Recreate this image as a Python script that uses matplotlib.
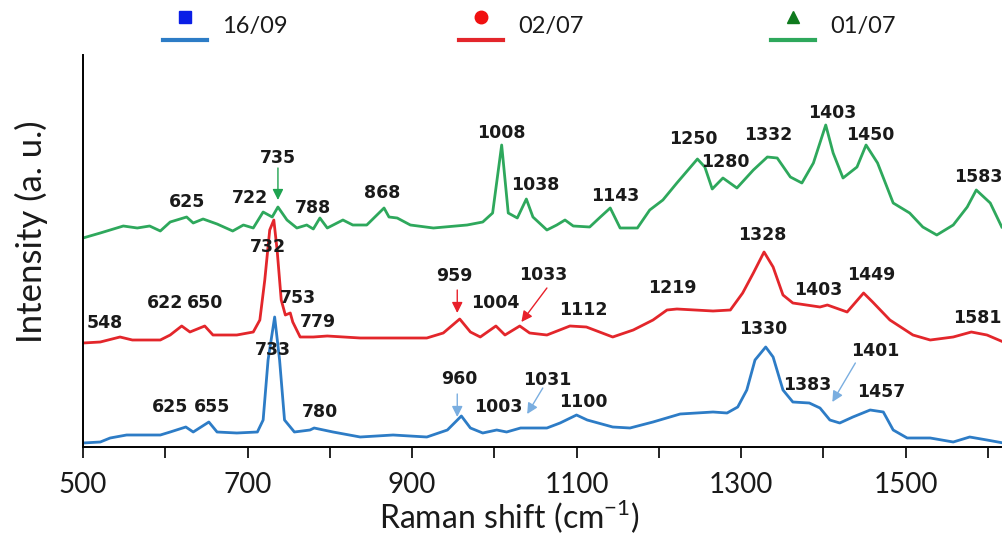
import matplotlib
matplotlib.use("Agg")
import matplotlib.pyplot as plt
from matplotlib.lines import Line2D

# Raman spectra, stacked (a. u.), wavenumber in cm-1
wn_0109 = [500, 521, 549, 566, 581, 594, 606, 626, 634, 646, 663, 682, 695, 707, 719, 730,
           737, 748, 760, 772, 780, 788, 797, 816, 828, 845, 866, 872, 882, 898, 926, 967,
           986, 998, 1009, 1017, 1028, 1039, 1047, 1064, 1076, 1086, 1096, 1116, 1129, 1141,
           1153, 1174, 1189, 1205, 1222, 1247, 1256, 1265, 1278, 1295, 1315, 1332, 1344, 1360,
           1374, 1388, 1403, 1412, 1424, 1441, 1452, 1466, 1485, 1505, 1521, 1538, 1558, 1575,
           1586, 1603, 1617]
int_0109 = [209, 214, 221, 219, 221, 216, 225, 230, 224, 228, 223, 216, 222, 219, 235, 230,
            240, 227, 219, 222, 218, 229, 219, 227, 222, 222, 239, 230, 229, 222, 219, 222,
            225, 234, 302, 234, 229, 248, 230, 217, 222, 227, 221, 220, 230, 239,
            219, 219, 237, 247, 264, 288, 280, 258, 269, 259, 277, 290, 289, 270,
            264, 284, 322, 294, 269, 280, 302, 284, 244, 234, 220, 212, 222, 240,
            257, 244, 220]

wn_0207 = [500, 521, 545, 560, 594, 606, 620, 630, 648, 658, 687, 707, 715, 721, 727, 732,
           736, 741, 746, 752, 755, 764, 780, 797, 837, 877, 918, 938, 958, 971, 983, 1002,
           1013, 1031, 1043, 1064, 1092, 1112, 1144, 1169, 1193, 1210, 1222, 1266, 1287,
           1302, 1315, 1328, 1339, 1351, 1363, 1396, 1405, 1429, 1449, 1460, 1481, 1509,
           1530, 1558, 1580, 1599, 1619]
int_0207 = [104, 105, 110, 107, 107, 112, 121, 115, 121, 112, 112, 115, 127, 167, 217, 227,
            197, 147, 132, 134, 125, 110, 110, 111, 109, 109, 109, 114, 128, 115, 110, 121,
            112, 121, 114, 112, 121, 120, 110, 117, 127, 137, 138, 136, 137,
            154, 174, 195, 180, 152, 144, 140, 142, 135, 154, 145, 127, 112,
            107, 110, 115, 112, 105]

wn_1609 = [500, 521, 533, 553, 594, 606, 625, 634, 653, 663, 687, 712, 719, 725, 733, 739,
           745, 757, 776, 781, 804, 837, 877, 918, 943, 960, 971, 986, 1003, 1015, 1032, 1064,
           1080, 1100, 1113, 1144, 1165, 1193, 1226, 1266, 1283, 1296, 1307, 1317, 1330,
           1339, 1351, 1363, 1383, 1396, 1408, 1420, 1436, 1457, 1473, 1485, 1502, 1530,
           1558, 1578, 1599, 1619]
int_1609 = [4, 5, 9, 12, 12, 15, 20, 15, 25, 15, 14, 15, 27, 87, 130, 87,
            27, 15, 17, 19, 15, 10, 12, 10, 17, 31, 19, 14, 17, 15, 19, 19,
            24, 32, 27, 20, 19, 25, 33, 35, 34, 40, 57, 87, 100,
            90, 57, 45, 44, 39, 27, 24, 30, 37, 35, 17, 9, 9,
            5, 10, 7, 4]

# peak labels: text, x, y
labels_0109 = [("625", 626, 245), ("722", 703, 249), ("735", 737, 289), ("788", 780, 239),
               ("868", 864, 254), ("1008", 1009, 314), ("1038", 1050, 262), ("1143", 1147, 251),
               ("1250", 1242, 308), ("1280", 1281, 285), ("1332", 1333, 312), ("1403", 1411, 334),
               ("1450", 1457, 312), ("1583", 1588, 270)]
labels_0207 = [("548", 527, 124), ("622", 600, 144), ("650", 648, 144), ("732", 725, 200),
               ("753", 761, 149), ("779", 786, 125), ("959", 952, 171), ("1004", 1001, 144),
               ("1033", 1059, 172), ("1112", 1108, 137), ("1219", 1217, 159), ("1328", 1326, 212),
               ("1403", 1394, 157), ("1449", 1458, 172), ("1581", 1587, 129)]
labels_1609 = [("625", 606, 40), ("655", 657, 40), ("733", 731, 97), ("780", 788, 35),
               ("960", 957, 68), ("1003", 1005, 40), ("1031", 1064, 67), ("1100", 1108, 45),
               ("1330", 1327, 118), ("1383", 1381, 62), ("1401", 1463, 96), ("1457", 1471, 55)]

# arrows: start (x, y) -> tip (x, y)
arrows_0109 = [((737, 279), (737, 247))]
arrows_0207 = [((955, 157), (955, 134)), ((1064, 159), (1033, 125))]
arrows_1609 = [((955, 53), (955, 30)), ((1059, 59), (1040, 33)), ((1439, 84), (1411, 45))]

green, red, blue = "#2ea85c", "#e3262b", "#2d7cc6"
arrow_cols = {"green": "#1ea34f", "red": "#e8202a", "blue": "#7aaee0"}

plt.rcParams["font.family"] = ["Lato", "DejaVu Sans"]
plt.rcParams["mathtext.fontset"] = "custom"
plt.rcParams["mathtext.rm"] = "Lato"

fig = plt.figure(figsize=(10.03, 5.34), dpi=100)
ax = fig.add_axes([83 / 1003, 87 / 534, 920 / 1003, 392 / 534])

ax.plot(wn_0109, int_0109, color=green, lw=2.0)
ax.plot(wn_0207, int_0207, color=red, lw=2.0)
ax.plot(wn_1609, int_1609, color=blue, lw=2.0)

lab_font = dict(family=["DejaVu Sans"], fontsize=12.5, fontweight="bold",
                color="#1a1a1a", ha="center", va="center")
for group in (labels_0109, labels_0207, labels_1609):
    for txt, x, y in group:
        ax.text(x, y, txt, **lab_font)

for arrs, c in ((arrows_0109, "green"), (arrows_0207, "red"), (arrows_1609, "blue")):
    for (x0, y0), (x1, y1) in arrs:
        ax.annotate("", xy=(x1, y1), xytext=(x0, y0),
                    arrowprops=dict(arrowstyle="-|>", color=arrow_cols[c], lw=1.0,
                                    mutation_scale=16, shrinkA=0, shrinkB=0))

ax.set_xlim(500, 1618.5)
ax.set_ylim(0, 392)
ax.set_xticks(range(500, 1501, 200))
ax.set_xticks(range(600, 1601, 200), minor=True)
ax.tick_params(axis="x", which="both", direction="out", length=8, width=1.2,
               labelsize=20, pad=10, labelcolor="#1a1a1a")
ax.set_yticks([])
for s in ("top", "right"):
    ax.spines[s].set_visible(False)
for s in ("left", "bottom"):
    ax.spines[s].set_linewidth(1.4)

ax.set_xlabel(r"Raman shift (cm$^{\mathregular{-1}}$)", fontsize=23, color="#1a1a1a")
ax.xaxis.set_label_coords((509 - 83) / 920, (447 - 517) / 392)
ax.xaxis.label.set_va("center")
ax.set_ylabel("Intensity (a. u.)", fontsize=25, color="#1a1a1a")
ax.yaxis.set_label_coords((31 - 83) / 920, (447 - 232) / 392)
ax.yaxis.label.set_va("center")

# legend: marker above a short line
legend_items = [("16/09", "s", "#0a1ee6", blue, 185),
                ("02/07", "o", "#f01010", red, 481),
                ("01/07", "^", "#0f7a1e", green, 793)]
for name, mk, mcol, lcol, px in legend_items:
    fx = px / 1003
    fig.add_artist(Line2D([fx], [1 - 17 / 534], marker=mk, markersize=9, color=mcol,
                          linestyle="none", transform=fig.transFigure))
    fig.add_artist(Line2D([(px - 22) / 1003, (px + 22) / 1003], [1 - 40 / 534] * 2,
                          color=lcol, lw=3, transform=fig.transFigure))
    fig.text((px + 37) / 1003, 1 - 27 / 534, name, fontsize=17, va="center", ha="left",
             color="#1a1a1a")

fig.savefig("out.png", dpi=100, facecolor="white")
